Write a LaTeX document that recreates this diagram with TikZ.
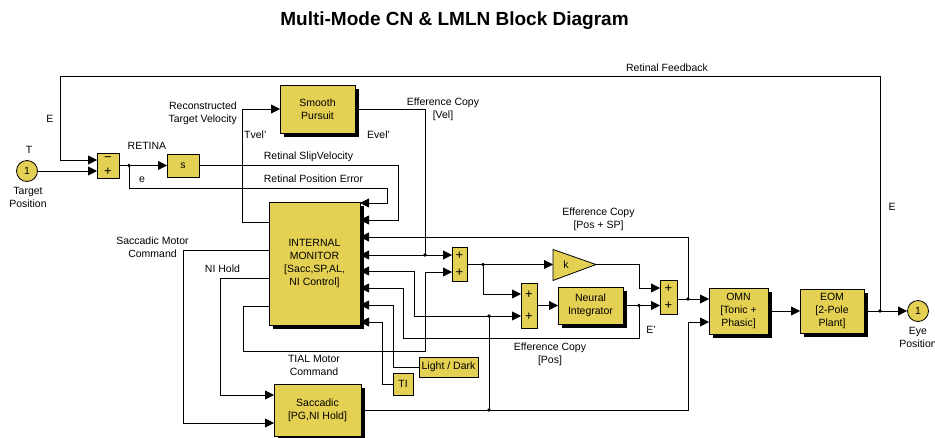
\documentclass[tikz,border=0pt]{standalone}
\usepackage{fontspec}
\setmainfont{Liberation Sans}
\usetikzlibrary{arrows.meta,shadows,calc}
\definecolor{simy}{RGB}{228,208,82}
\begin{document}
\begin{tikzpicture}[x=1pt,y=-1pt,
  font=\fontsize{10.5}{13}\selectfont,
  wire/.style={line width=0.8pt},
  sig/.style={wire,-{Triangle[length=9pt,width=9pt]}},
  pblk/.style={draw, fill=simy, line width=0.8pt, inner sep=0pt, outer sep=0pt, align=center},
  blk/.style={pblk, drop shadow={shadow xshift=4pt,shadow yshift=-4pt,opacity=1,fill=black}},
  iport/.style={circle, draw, fill=simy, line width=0.8pt, minimum size=21pt, inner sep=0pt},
  jn/.style={circle, fill=black, minimum size=3.6pt, inner sep=0pt},
  lbl/.style={inner sep=0pt, align=center},
  sgn/.style={inner sep=0pt, font=\fontsize{13}{13}\selectfont},
]
\useasboundingbox (0,0) rectangle (935,437);

% title
\node[lbl, font=\bfseries\fontsize{19}{20}\selectfont] (title) at (454.5,21) {Multi-Mode CN \& LMLN Block Diagram};

% blocks
\node[iport] (tgt) at (27,171) {1};
\node[pblk, minimum width=22, minimum height=25] (s1) at (108,165.5) {};
\node[sgn] (s1a) at (108,159.5) {−};
\node[sgn] (s1b) at (108,171.5) {+};
\node[pblk, minimum width=32, minimum height=23] (sb) at (183,165.5) {s};
\node[blk, minimum width=75, minimum height=48] (sp) at (317.5,109) {Smooth\\Pursuit};
\node[blk, minimum width=91, minimum height=123] (im) at (314.5,263.5) {INTERNAL\\MONITOR\\{[Sacc,SP,AL,}\\NI Control]};
\node[pblk, minimum width=15, minimum height=34] (s2) at (459.5,264.5) {};
\node[sgn] (s2a) at (459.5,256) {+};
\node[sgn] (s2b) at (459.5,273) {+};
\draw[line width=0.8pt, fill=simy] (553,249.5) -- (596,264.5) -- (553,280.5) -- cycle;
\coordinate (kin) at (553,264.5);
\coordinate (kout) at (596,264.5);
\node[lbl] (k) at (566,264.5) {k};
\node[pblk, minimum width=16, minimum height=45] (s3) at (529,305.5) {};
\node[sgn] (s3a) at (529,295) {+};
\node[sgn] (s3b) at (529,317) {+};
\node[blk, minimum width=65, minimum height=37] (ni) at (590.5,305.5) {Neural\\Integrator};
\node[pblk, minimum width=17, minimum height=34] (s4) at (668.5,297) {};
\node[sgn] (s4a) at (668.5,289) {+};
\node[sgn] (s4b) at (668.5,306) {+};
\node[blk, minimum width=59, minimum height=46] (omn) at (738.5,311) {OMN\\{[Tonic +}\\Phasic]};
\node[blk, minimum width=64, minimum height=44] (eom) at (832,311) {EOM\\{[2-Pole}\\Plant]};
\node[iport] (eye) at (918,311) {1};
\node[blk, minimum width=87, minimum height=52] (sac) at (317.5,410) {Saccadic\\{[PG,NI Hold]}};
\node[pblk, minimum width=59, minimum height=20] (ld) at (448.5,367) {Light / Dark};
\node[pblk, minimum width=20, minimum height=22] (ti) at (403,384) {TI};

% junctions
\node[jn] (j1) at (129,165.5) {};
\node[jn] (j2) at (425,255) {};
\node[jn] (j3) at (483,264.5) {};
\node[jn] (j4) at (639,305.5) {};
\node[jn] (j5) at (688,299) {};
\node[jn] (j6) at (489,410) {};
\node[jn] (j7) at (489,316) {};
\node[jn] (j8) at (880,311) {};

% connectors
\draw[sig] (tgt.east) -- (s1.west |- tgt.east);
\draw[sig] (j8.center) |- (60,76) |- (s1.west |- 0,160);
\draw[sig] (s1.east) -- (sb.west);
\draw[sig] (j1.center) |- (387,188) |- (im.east |- 0,203);
\draw[sig] (sb.east) -| (398,220) -- (im.east |- 0,220);
\draw[sig] (im.west |- 0,222) -| (242,109) -- (sp.west);
\draw[wire] (sp.east) -| (j2.center);
\draw[sig] (j2.center) -- (im.east |- 0,255);
\draw[sig] (j2.center) -- (s2.west |- 0,255);
\draw[sig] (s2.east) -- (kin);
\draw[sig] (j3.center) |- (s3.west |- 0,294);
\draw[sig] (kout) -| (639,288) -- (s4.west |- 0,288);
\draw[sig] (s3.east) -- (ni.west);
\draw[sig] (ni.east) -- (s4.west |- ni.east);
\draw[sig] (j4.center) |- (403,338) |- (im.east |- 0,288);
\draw[sig] (s4.east |- 0,299) -- (omn.west |- 0,299);
\draw[sig] (j5.center) |- (im.east |- 0,237);
\draw[sig] (omn.east) -- (eom.west);
\draw[sig] (eom.east) -- (eye.west);
\draw[sig] (sac.east) -| (688,322) -- (omn.west |- 0,322);
\draw[sig] (j6.center) -- (j7.center) -- (s3.west |- 0,316);
\draw[sig] (j7.center) -| (414,271) -- (im.east |- 0,271);
\draw[sig] (im.west |- 0,250) -| (183,423) -- (sac.west |- 0,423);
\draw[sig] (im.west |- 0,278) -| (220,395) -- (sac.west |- 0,395);
\draw[sig] (im.west |- 0,306) -| (243,351) -| (425,272) -- (s2.west |- 0,272);
\draw[sig] (ld.west) -| (393,305) -- (im.east |- 0,305);
\draw[sig] (ti.west) -| (382,322) -- (im.east |- 0,322);

% labels
\node[lbl] (tRF) at (667,68) {Retinal Feedback};
\node[lbl] (tE1) at (50,119) {E};
\node[lbl] (tE2) at (892,207) {E};
\node[lbl] (tT) at (29,150) {T};
\node[lbl] (tTP) at (28,197.5) {Target\\Position};
\node[lbl] (tRET) at (147,146) {RETINA};
\node[lbl] (te) at (142,180) {e};
\node[lbl, anchor=east, align=right] (tRTV) at (237,113.5) {Reconstructed\\Target Velocity};
\node[lbl, anchor=west] (tTv) at (244,135) {Tvel'};
\node[lbl, anchor=west] (tEv) at (367,135) {Evel'};
\node[lbl] (tECV) at (443,109) {Efference Copy\\{[Vel]}};
\node[lbl] (tRSV) at (308.5,157) {Retinal SlipVelocity};
\node[lbl] (tRPE) at (313.5,179) {Retinal Position Error};
\node[lbl] (tSMC) at (152.5,247.5) {Saccadic Motor\\Command};
\node[lbl] (tNIH) at (222.5,269) {NI Hold};
\node[lbl] (tTIAL) at (314,365) {TIAL Motor\\Command};
\node[lbl] (tECP) at (550,354) {Efference Copy\\{[Pos]}};
\node[lbl] (tECPS) at (598.5,219.5) {Efference Copy\\{[Pos + SP]}};
\node[lbl] (tEp) at (651,330) {E'};
\node[lbl] (tEye) at (918,337) {Eye\\Position};
\end{tikzpicture}
\end{document}
